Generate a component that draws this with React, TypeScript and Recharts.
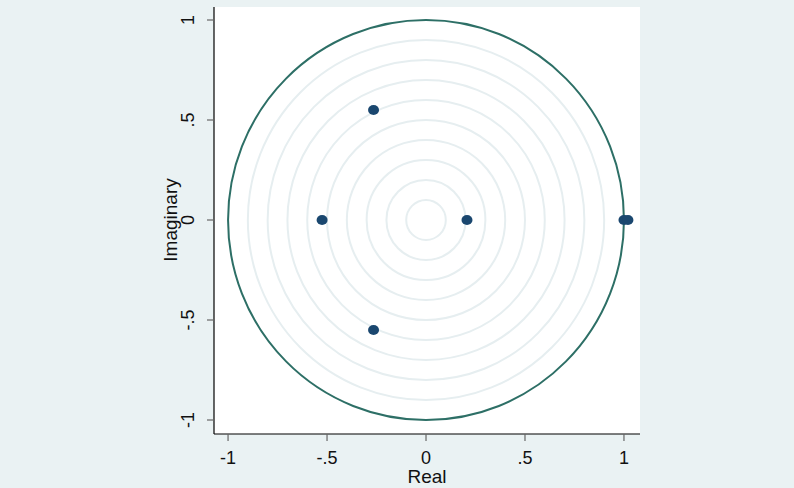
import React from "react";
import { ScatterChart, Scatter, XAxis, YAxis, CartesianGrid } from "recharts";

// eigenvalues (inverse roots)
const realParts = [1.0, 1.02, 0.207, -0.525, -0.265, -0.265];
const imagParts = [0, 0, 0, 0, 0.55, -0.55];

// reference circles
const gridRadii = [0.1, 0.2, 0.3, 0.4, 0.5, 0.6, 0.7, 0.8, 0.9];
const unitRadius = [1];

const xTicks = [-1, -0.5, 0, 0.5, 1];
const yTicks = [-1, -0.5, 0, 0.5, 1];

const X_DOMAIN: [number, number] = [-1.071, 1.081];
const Y_DOMAIN: [number, number] = [-1.07, 1.065];

const W = 794;
const H = 488;
const MARGIN = { top: 7, right: 154, bottom: 0, left: 154 };
const Y_AXIS_W = 60;
const X_AXIS_H = 54;
const PLOT_W = W - MARGIN.left - MARGIN.right - Y_AXIS_W;
const PLOT_H = H - MARGIN.top - MARGIN.bottom - X_AXIS_H;
const PX_X = PLOT_W / (X_DOMAIN[1] - X_DOMAIN[0]);
const PX_Y = PLOT_H / (Y_DOMAIN[1] - Y_DOMAIN[0]);

const FONT = "'Liberation Sans', Arial, sans-serif";

const roots = realParts.map((x, i) => ({ x, y: imagParts[i] }));
const rings = gridRadii.map((r) => ({ x: 0, y: 0, r }));
const unit = unitRadius.map((r) => ({ x: 0, y: 0, r }));

const stataFmt = (v: number) => {
  if (v === 0) return "0";
  const s = String(Math.abs(v)).replace(/^0/, "");
  return (v < 0 ? "-" : "") + s;
};

const XTick = (props: any) => {
  const { x, payload } = props;
  return (
    <text x={x} y={464} textAnchor="middle" fontSize={18} fontFamily={FONT} fill="#111">
      {stataFmt(payload.value)}
    </text>
  );
};

const YTick = (props: any) => {
  const { y, payload } = props;
  return (
    <text
      transform={`translate(194, ${y}) rotate(-90)`}
      textAnchor="middle"
      fontSize={18}
      fontFamily={FONT}
      fill="#111"
    >
      {stataFmt(payload.value)}
    </text>
  );
};

const ringShape = (stroke: string, width: number) => (props: any) => (
  <ellipse
    cx={props.cx}
    cy={props.cy}
    rx={props.payload.r * PX_X}
    ry={props.payload.r * PX_Y}
    fill="none"
    stroke={stroke}
    strokeWidth={width}
  />
);

const rootShape = (props: any) => (
  <ellipse cx={props.cx} cy={props.cy} rx={5.5} ry={5} fill="#1A476F" />
);

export default function App() {
  return (
    <div
      style={{
        position: "fixed",
        left: 0,
        top: 0,
        width: W,
        height: H,
        background: "#EAF2F3",
      }}
    >
      <ScatterChart width={W} height={H} margin={MARGIN}>
        <CartesianGrid fill="#ffffff" horizontal={false} vertical={false} />
        <XAxis
          type="number"
          dataKey="x"
          domain={X_DOMAIN}
          ticks={xTicks}
          allowDataOverflow
          height={X_AXIS_H}
          tickSize={7}
          tick={<XTick />}
          axisLine={{ stroke: "#000", strokeWidth: 1.2 }}
          tickLine={{ stroke: "#666", strokeWidth: 1.2 }}
          label={(p: any) => (
            <text x={427} y={483} textAnchor="middle" fontSize={19} fontFamily={FONT} fill="#111">
              Real
            </text>
          )}
        />
        <YAxis
          type="number"
          dataKey="y"
          domain={Y_DOMAIN}
          ticks={yTicks}
          allowDataOverflow
          width={Y_AXIS_W}
          tickSize={7}
          tick={<YTick />}
          axisLine={{ stroke: "#000", strokeWidth: 1.2 }}
          tickLine={{ stroke: "#666", strokeWidth: 1.2 }}
          label={(p: any) => (
            <text
              transform="translate(177, 220) rotate(-90)"
              textAnchor="middle"
              fontSize={19}
              fontFamily={FONT}
              fill="#111"
            >
              Imaginary
            </text>
          )}
        />
        <Scatter data={rings} shape={ringShape("#E6EEF0", 2)} isAnimationActive={false} legendType="none" />
        <Scatter data={unit} shape={ringShape("#2D6F66", 2)} isAnimationActive={false} legendType="none" />
        <Scatter data={roots} shape={rootShape} isAnimationActive={false} legendType="none" />
      </ScatterChart>
    </div>
  );
}
